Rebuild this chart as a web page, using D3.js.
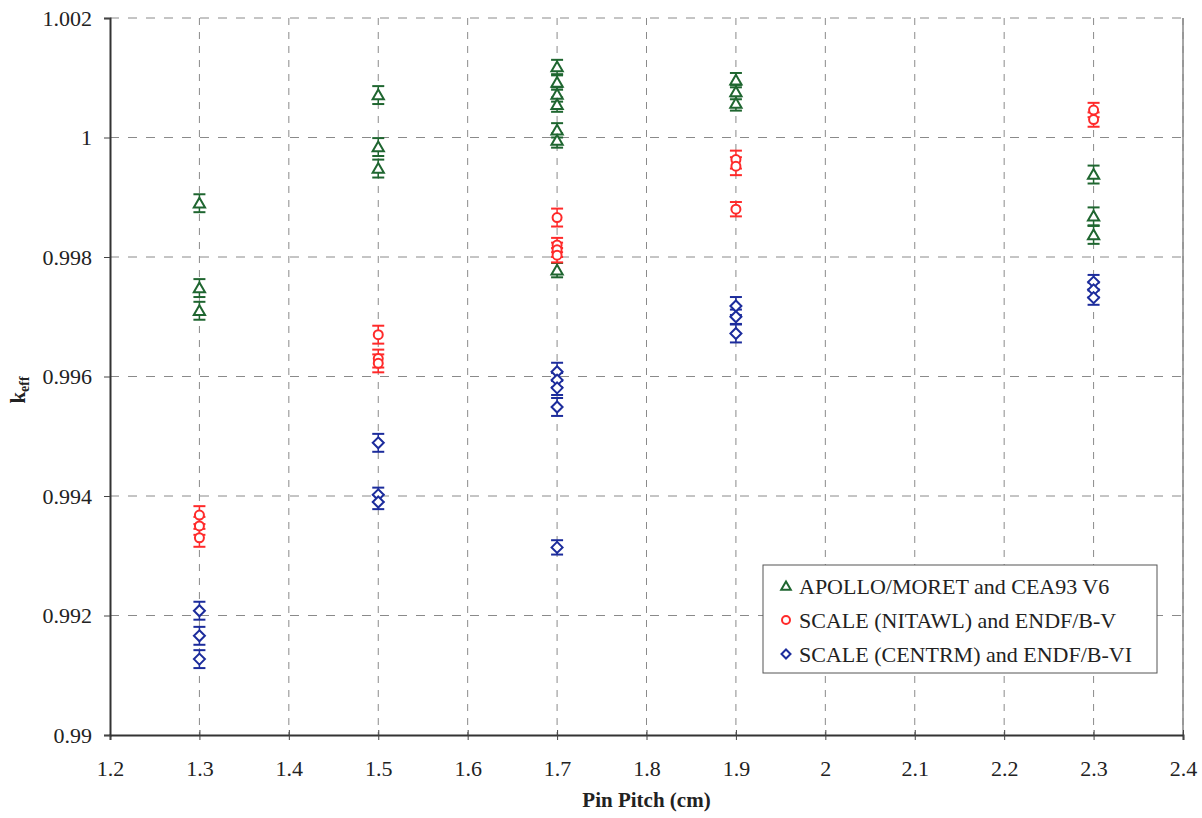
<!DOCTYPE html>
<html><head><meta charset="utf-8">
<script src="https://cdn.jsdelivr.net/npm/d3@7"></script>
<style>body{margin:0;background:#fff}svg{display:block}
svg text{font-family:"Liberation Serif","Times New Roman","DejaVu Serif",serif !important;}</style>
</head><body><svg id="c" width="1202" height="818"></svg>
<script>
const xTicks = [1.2,1.3,1.4,1.5,1.6,1.7,1.8,1.9,2.0,2.1,2.2,2.3,2.4];
const yTicks = [0.99,0.992,0.994,0.996,0.998,1.0,1.002];
const seriesNames = ["APOLLO/MORET and CEA93 V6","SCALE (NITAWL) and ENDF/B-V","SCALE (CENTRM) and ENDF/B-VI"];

const apolloPitch = [1.3,1.3,1.3, 1.5,1.5,1.5, 1.7,1.7,1.7,1.7,1.7,1.7,1.7, 1.9,1.9,1.9, 2.3,2.3,2.3];
const apolloKeff  = [0.99890,0.99748,0.99710, 1.00071,0.99984,0.99948, 1.00118,1.00092,1.00072,1.00055,1.00012,0.99995,0.99778, 1.00096,1.00076,1.00057, 0.99938,0.99868,0.99837];
const apolloErr   = [0.00015,0.00015,0.00015, 0.00015,0.00015,0.00015, 0.00012,0.00012,0.00012,0.00012,0.00012,0.00012,0.00012, 0.00012,0.00012,0.00012, 0.00015,0.00015,0.00015];

const nitawlPitch = [1.3,1.3,1.3, 1.5,1.5,1.5, 1.7,1.7,1.7,1.7, 1.9,1.9,1.9, 2.3,2.3];
const nitawlKeff  = [0.99368,0.99350,0.99330, 0.99670,0.99630,0.99622, 0.99866,0.99820,0.99812,0.99803, 0.99963,0.99952,0.99880, 1.00046,1.00030];
const nitawlErr   = [0.00015,0.00015,0.00015, 0.00015,0.00015,0.00015, 0.00015,0.00012,0.00012,0.00012, 0.00015,0.00015,0.00012, 0.00012,0.00012];

const centrmPitch = [1.3,1.3,1.3, 1.5,1.5,1.5, 1.7,1.7,1.7,1.7,1.7, 1.9,1.9,1.9, 2.3,2.3,2.3];
const centrmKeff  = [0.99208,0.99166,0.99127, 0.99489,0.99402,0.99390, 0.99608,0.99594,0.99581,0.99549,0.99314, 0.99718,0.99700,0.99672, 0.99758,0.99745,0.99732];
const centrmErr   = [0.00015,0.00015,0.00015, 0.00015,0.00012,0.00012, 0.00015,0.00012,0.00012,0.00015,0.00012, 0.00015,0.00012,0.00015, 0.00012,0.00012,0.00012];

const colors = ["#1f6630","#ff2a2a","#1c2c9c"];

const svg = d3.select("#c");
const L=110,R=1183,T=18,B=735;
const x = d3.scaleLinear().domain([1.2,2.4]).range([L,R]);
const y = d3.scaleLinear().domain([0.99,1.002]).range([B,T]);

// grid
const g = svg.append("g");
g.selectAll("line.vg").data(xTicks.slice(1)).join("line")
  .attr("x1",d=>x(d)).attr("x2",d=>x(d)).attr("y1",T).attr("y2",B)
  .attr("stroke","#8a8a8a").attr("stroke-width",1).attr("stroke-dasharray","7,7");
g.selectAll("line.hg").data(yTicks.slice(1)).join("line")
  .attr("x1",L).attr("x2",R).attr("y1",d=>y(d)).attr("y2",d=>y(d))
  .attr("stroke","#8a8a8a").attr("stroke-width",1).attr("stroke-dasharray","9,9");
svg.append("line").attr("x1",R).attr("x2",R).attr("y1",T).attr("y2",B).attr("stroke","#888").attr("stroke-width",1.5);

// axes
const xAxis = svg.append("g").attr("transform",`translate(0,${B})`)
  .call(d3.axisBottom(x).tickValues(xTicks).tickFormat(d3.format("~g")).tickSize(5).tickPadding(20));
const yAxis = svg.append("g").attr("transform",`translate(${L},0)`)
  .call(d3.axisLeft(y).tickValues(yTicks).tickFormat(d3.format("~g")).tickSize(6).tickPadding(12));
[xAxis,yAxis].forEach(a=>{
  a.select(".domain").attr("stroke","#333").attr("stroke-width",2);
  a.selectAll(".tick line").attr("stroke","#444");
  a.selectAll("text").attr("font-size",22).attr("fill","#222");
});
xAxis.selectAll(".tick line").attr("y1",-5);

// axis titles
svg.append("text").attr("x",(L+R)/2).attr("y",807).attr("text-anchor","middle")
  .attr("font-size",21).attr("font-weight","bold").attr("fill","#222").text("Pin Pitch (cm)");
const yl = svg.append("text").attr("transform","translate(25,390) rotate(-90)").attr("text-anchor","middle")
  .attr("font-size",21).attr("font-weight","bold").attr("fill","#222");
yl.append("tspan").text("k");
yl.append("tspan").attr("font-size",14).attr("dy",4).text("eff");

// markers
const tri = d3.symbol().type(d3.symbolTriangle).size(55);
const diaPath = s => `M0,${-s}L${s},0L0,${s}L${-s},0Z`;
function drawSeries(px, ky, er, color, kind){
  const data = px.map((p,i)=>({p, k:ky[i], e:er[i]}));
  const gs = svg.append("g");
  const eb = gs.selectAll("g.eb").data(data).join("g");
  eb.append("line").attr("x1",d=>x(d.p)).attr("x2",d=>x(d.p)).attr("y1",d=>y(d.k+d.e)).attr("y2",d=>y(d.k-d.e))
    .attr("stroke",color).attr("stroke-width",1.5);
  eb.append("line").attr("x1",d=>x(d.p)-6).attr("x2",d=>x(d.p)+6).attr("y1",d=>y(d.k+d.e)).attr("y2",d=>y(d.k+d.e))
    .attr("stroke",color).attr("stroke-width",2);
  eb.append("line").attr("x1",d=>x(d.p)-6).attr("x2",d=>x(d.p)+6).attr("y1",d=>y(d.k-d.e)).attr("y2",d=>y(d.k-d.e))
    .attr("stroke",color).attr("stroke-width",2);
  const m = gs.selectAll("g.m").data(data).join("g");
  if(kind==="circle"){
    m.append("circle").attr("cx",d=>x(d.p)).attr("cy",d=>y(d.k)).attr("r",4.5)
      .attr("fill","#fff").attr("stroke",color).attr("stroke-width",2);
  } else {
    m.append("path").attr("d",kind==="tri"?tri():diaPath(5.5)).attr("transform",d=>`translate(${x(d.p)},${y(d.k)+(kind==="tri"?1:0)})`)
      .attr("fill","#fff").attr("stroke",color).attr("stroke-width",2);
  }
}
drawSeries(apolloPitch,apolloKeff,apolloErr,colors[0],"tri");
drawSeries(nitawlPitch,nitawlKeff,nitawlErr,colors[1],"circle");
drawSeries(centrmPitch,centrmKeff,centrmErr,colors[2],"dia");

// legend
const lg = svg.append("g");
lg.append("rect").attr("x",763).attr("y",565).attr("width",394).attr("height",108)
  .attr("fill","#fff").attr("stroke","#555").attr("stroke-width",1);
const kinds=["tri","circle","dia"];
seriesNames.forEach((n,i)=>{
  const cy = 586+i*34;
  if(kinds[i]==="circle"){
    lg.append("circle").attr("cx",786).attr("cy",cy).attr("r",4).attr("fill","#fff").attr("stroke",colors[i]).attr("stroke-width",2);
  } else {
    lg.append("path").attr("d",kinds[i]==="tri"?d3.symbol().type(d3.symbolTriangle).size(40)():diaPath(4.5))
      .attr("transform",`translate(786,${cy+(kinds[i]==="tri"?1:0)})`).attr("fill","#fff").attr("stroke",colors[i]).attr("stroke-width",2);
  }
  lg.append("text").attr("x",799).attr("y",cy+8).attr("font-size",22).attr("fill","#222").text(n);
});
</script></body></html>
